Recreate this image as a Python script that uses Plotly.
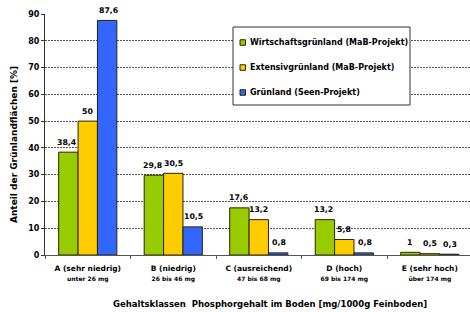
import plotly.graph_objects as go

categories = ["A (sehr niedrig)", "B (niedrig)", "C (ausreichend)", "D (hoch)", "E (sehr hoch)"]
subtitles = ["unter 26 mg", "26 bis 46 mg", "47 bis 68 mg", "69 bis 174 mg", "über 174 mg"]
wirtschaft = [38.4, 29.8, 17.6, 13.2, 1]
extensiv = [50, 30.5, 13.2, 5.8, 0.5]
seen = [87.6, 10.5, 0.8, 0.8, 0.3]
series_names = ["Wirtschaftsgrünland (MaB-Projekt)", "Extensivgrünland (MaB-Projekt)", "Grünland (Seen-Projekt)"]
colors = ["#99CC00", "#FFCC00", "#3366FF"]
y_ticks = [0, 10, 20, 30, 40, 50, 60, 70, 80, 90]

FONT = "DejaVu Sans"
W, H = 470, 312
ML, MR, MT, MB = 45, 0, 14, 57
PW, PH = W - ML - MR, H - MT - MB

def px(x):
    return (x - ML) / PW

def py(y):
    return (H - MB - y) / PH

def fmt(v):
    return ("%g" % v).replace(".", ",")

fig = go.Figure()
series = [wirtschaft, extensiv, seen]
for name, vals, col in zip(series_names, series, colors):
    fig.add_trace(go.Bar(
        x=categories, y=vals, name=name,
        marker=dict(color=col, line=dict(color="#262600", width=1)),
        showlegend=False,
    ))

# data labels above bars
bar_px = 19.5
for i, (vals, col) in enumerate(zip(series, colors)):
    for c, v in zip(categories, vals):
        fig.add_annotation(
            x=c, y=v, text="<b>%s</b>" % fmt(v), showarrow=False,
            xshift=(i - 1) * bar_px + (i - 1) * 1.0, yshift=10, yanchor="middle",
            font=dict(family=FONT, size=7.8, color="black"),
        )

# custom legend
fig.add_shape(type="rect", xref="paper", yref="paper",
              x0=px(233), x1=px(410), y0=py(105), y1=py(27),
              line=dict(color="#333333", width=1), fillcolor="white", layer="above")
for k, (name, col) in enumerate(zip(series_names, colors)):
    yc = 42.5 + 25 * k
    fig.add_shape(type="rect", xref="paper", yref="paper",
                  x0=px(240), x1=px(245.5), y0=py(yc + 2.75), y1=py(yc - 2.75),
                  line=dict(color="#262600", width=1), fillcolor=col, layer="above")
    fig.add_annotation(xref="paper", yref="paper", x=px(248), y=py(yc),
                       xanchor="left", yanchor="middle", showarrow=False,
                       text="<b>%s</b>" % name,
                       font=dict(family=FONT, size=8, color="black"))

# axis titles
fig.add_annotation(xref="paper", yref="paper", x=px(270), y=py(304),
                   xanchor="center", yanchor="middle", showarrow=False,
                   text="<b>Gehaltsklassen  Phosphorgehalt im Boden [mg/1000g Feinboden]</b>",
                   font=dict(family=FONT, size=8.5, color="black"))
fig.add_annotation(xref="paper", yref="paper", x=px(14), y=py(145),
                   xanchor="center", yanchor="middle", showarrow=False, textangle=-90,
                   text="<b>Anteil der Grünlandflächen [%]</b>",
                   font=dict(family=FONT, size=9, color="black"))

ticktext = ["<b>%s</b><br><span style='font-size:6px'><b>%s</b></span>" % (c, s)
            for c, s in zip(categories, subtitles)]

fig.update_layout(
    width=W, height=H,
    margin=dict(l=ML, r=MR, t=MT, b=MB, autoexpand=False),
    paper_bgcolor="white", plot_bgcolor="white",
    barmode="group", bargap=0.32, bargroupgap=0,
    font=dict(family=FONT, size=8, color="black"),
    showlegend=False,
    xaxis=dict(
        type="category", range=[-0.5, 4.47], automargin=False,
        tickmode="array", tickvals=categories, ticktext=ticktext,
        showline=True, linecolor="#555555", linewidth=1,
        ticks="outside", ticklen=3, tickcolor="#555555",
        tickson="boundaries", ticklabelstandoff=6,
        tickfont=dict(family=FONT, size=7.5, color="black"),
    ),
    yaxis=dict(
        range=[0, 90], tickvals=y_ticks, automargin=False,
        showline=True, linecolor="#333333", linewidth=1,
        ticks="outside", ticklen=3, tickcolor="#333333",
        showgrid=True, gridcolor="#555555", gridwidth=1, griddash="2px,1px",
        zeroline=False,
        tickfont=dict(family=FONT, size=8, color="black", weight="bold"),
    ),
)

fig.write_html("out.html", config={"displayModeBar": False},
               post_script="document.body.style.margin='0';document.body.style.overflow='hidden';")
